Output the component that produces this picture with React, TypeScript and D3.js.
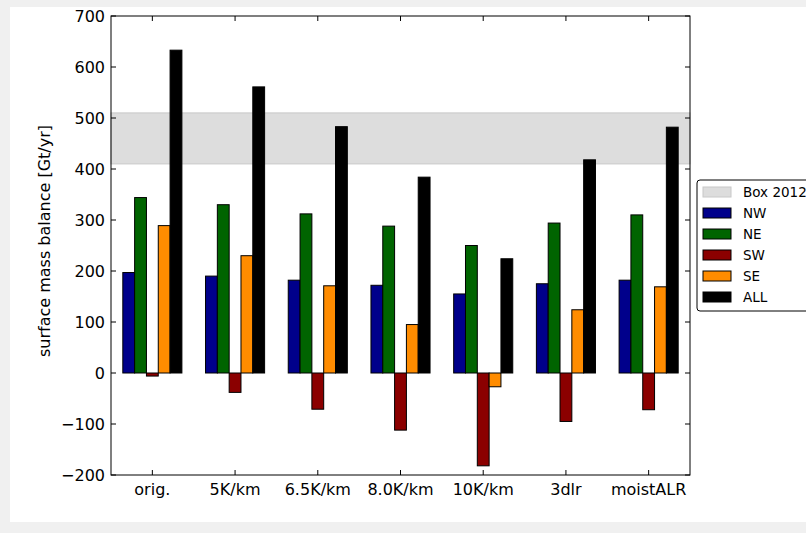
import React, { useEffect, useRef } from 'react';
import * as d3 from 'd3';

const categories = ['orig.', '5K/km', '6.5K/km', '8.0K/km', '10K/km', '3dlr', 'moistALR'];
const seriesNames = ['NW', 'NE', 'SW', 'SE', 'ALL'];
const seriesColors = ['#00008b', '#006400', '#8b0000', '#ff8c00', '#000000'];
const nw = [197, 190, 182, 172, 155, 175, 182];
const ne = [344, 330, 312, 288, 250, 294, 310];
const sw = [-6, -38, -71, -112, -182, -95, -72];
const se = [289, 230, 171, 95, -27, 124, 169];
const all = [633, 561, 483, 384, 224, 418, 482];
const box2012 = [410, 510];
const yTicks = [-200, -100, 0, 100, 200, 300, 400, 500, 600, 700];

const App = () => {
  const chartRef = useRef<SVGSVGElement>(null);

  useEffect(() => {
    const series = [nw, ne, sw, se, all];
    const font = 'DejaVu Sans, sans-serif';
    const left = 111, right = 690, top = 16, bottom = 475;

    const svg = d3.select(chartRef.current);
    svg.selectAll('*').remove();

    // figure background
    svg.append('rect').attr('width', 806).attr('height', 533).attr('fill', '#f0f0f0');
    svg.append('rect').attr('x', 10).attr('y', 7).attr('width', 796).attr('height', 515).attr('fill', '#ffffff');

    const x = d3.scaleLinear().domain([-0.5, categories.length - 0.5]).range([left, right]);
    const y = d3.scaleLinear().domain([-200, 700]).range([bottom, top]);
    const w = 1 / 7;

    // Box 2012 band
    svg.append('rect')
      .attr('x', left)
      .attr('y', y(box2012[1]))
      .attr('width', right - left)
      .attr('height', y(box2012[0]) - y(box2012[1]))
      .attr('fill', '#dddddd')
      .attr('stroke', '#c8c8c8')
      .attr('stroke-width', 1);

    // bars
    series.forEach((vals, s) => {
      svg.append('g')
        .selectAll('rect')
        .data(vals)
        .enter()
        .append('rect')
        .attr('x', (d, i) => x(i - 2.5 * w + s * w))
        .attr('y', d => y(Math.max(0, d)))
        .attr('width', x(w) - x(0))
        .attr('height', d => Math.abs(y(d) - y(0)))
        .attr('fill', seriesColors[s])
        .attr('stroke', '#000')
        .attr('stroke-width', 1);
    });

    // axes frame
    svg.append('rect')
      .attr('x', left).attr('y', top)
      .attr('width', right - left).attr('height', bottom - top)
      .attr('fill', 'none').attr('stroke', '#000').attr('stroke-width', 1);

    // y ticks (inward, both sides) + labels
    const yAxis = svg.append('g');
    yTicks.forEach(t => {
      yAxis.append('line').attr('x1', left).attr('x2', left + 5).attr('y1', y(t)).attr('y2', y(t)).attr('stroke', '#000');
      yAxis.append('line').attr('x1', right - 5).attr('x2', right).attr('y1', y(t)).attr('y2', y(t)).attr('stroke', '#000');
      yAxis.append('text')
        .attr('x', left - 6)
        .attr('y', y(t))
        .attr('dy', '0.36em')
        .attr('text-anchor', 'end')
        .attr('font-family', font)
        .attr('font-size', 16)
        .text(d3.format('d')(t));
    });

    // x ticks + labels
    const xAxis = svg.append('g');
    categories.forEach((c, i) => {
      xAxis.append('line').attr('x1', x(i)).attr('x2', x(i)).attr('y1', bottom).attr('y2', bottom - 5).attr('stroke', '#000');
      xAxis.append('line').attr('x1', x(i)).attr('x2', x(i)).attr('y1', top).attr('y2', top + 5).attr('stroke', '#000');
      xAxis.append('text')
        .attr('x', x(i))
        .attr('y', bottom + 20)
        .attr('text-anchor', 'middle')
        .attr('font-family', font)
        .attr('font-size', 16)
        .text(c);
    });

    // y axis label
    svg.append('text')
      .attr('transform', 'translate(50,241) rotate(-90)')
      .attr('text-anchor', 'middle')
      .attr('font-family', font)
      .attr('font-size', 16)
      .text('surface mass balance [Gt/yr]');

    // legend
    const lg = svg.append('g').attr('transform', 'translate(697,180)');
    lg.append('rect')
      .attr('width', 130).attr('height', 131).attr('rx', 3)
      .attr('fill', '#fff').attr('stroke', '#000').attr('stroke-width', 1);
    const entries = [{ name: 'Box 2012', color: '#dddddd', edge: '#c8c8c8' }]
      .concat(seriesNames.map((n, i) => ({ name: n, color: seriesColors[i], edge: '#000' })));
    entries.forEach((e, i) => {
      const cy = 12 + i * 21;
      lg.append('rect')
        .attr('x', 6).attr('y', cy - 5).attr('width', 28).attr('height', 10)
        .attr('fill', e.color).attr('stroke', e.edge).attr('stroke-width', 1);
      lg.append('text')
        .attr('x', 46).attr('y', cy).attr('dy', '0.36em')
        .attr('font-family', font).attr('font-size', 13.5)
        .text(e.name);
    });
  }, []);

  return (
    <svg
      ref={chartRef}
      width={806}
      height={533}
      style={{ position: 'absolute', left: 0, top: 0 }}
    ></svg>
  );
};

export default App;
